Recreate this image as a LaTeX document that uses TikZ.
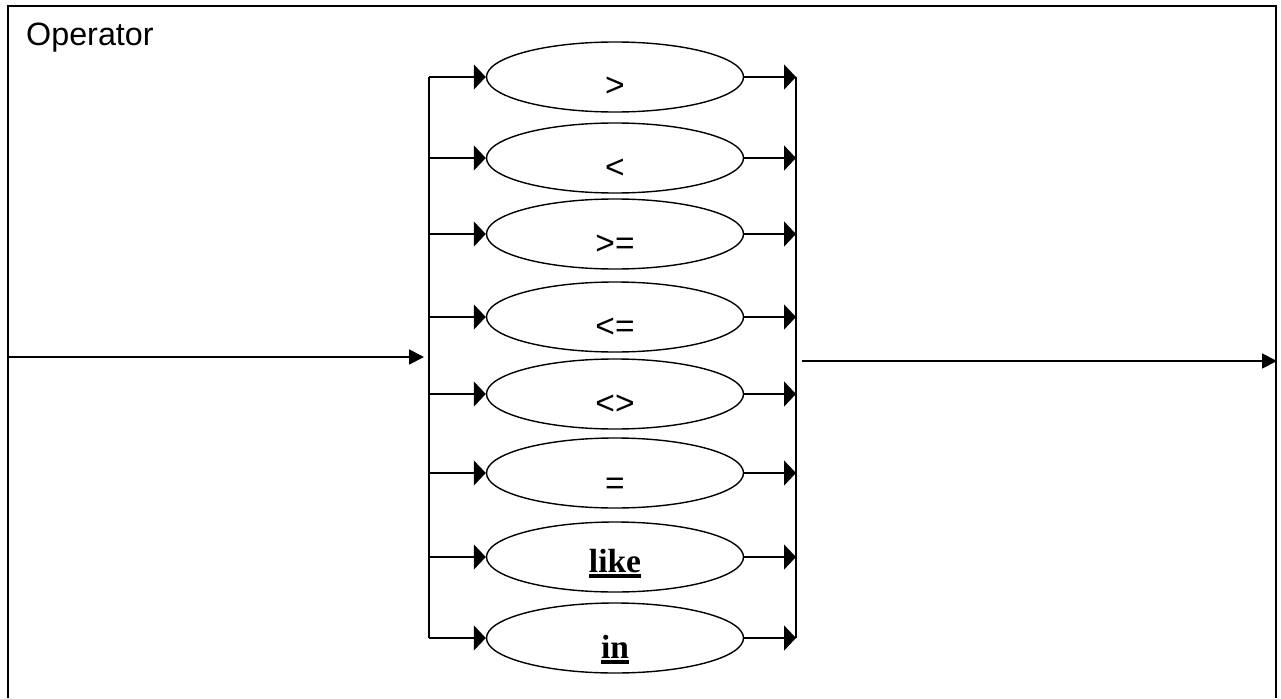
\documentclass[tikz,border=0pt]{standalone}
\usepackage{fontspec}
\setmainfont{Liberation Sans}
\newfontfamily\serifbf{Liberation Serif}[BoldFont={Liberation Serif Bold}]
\usetikzlibrary{shapes.geometric,arrows.meta}
\newcommand{\ulbold}[1]{\setbox0\hbox{\serifbf\bfseries #1}\rlap{\vrule width \wd0 height -2.3pt depth 5.8pt}\box0}
\tikzset{
  opellipse/.style={draw, ellipse, line width=1.4pt, minimum width=257pt, minimum height=70pt, inner sep=0pt},
  oplabel/.style={anchor=base, inner sep=0pt, font=\fontsize{33.5}{38}\selectfont},
  branch/.style={line width=1.4pt, -{Triangle[length=12pt,width=25pt]}},
  bar/.style={line width=1.4pt},
  mainarrow/.style={line width=1.8pt, -{Triangle[length=15pt,width=15pt]}},
  frame/.style={line width=2.2pt},
}
\begin{document}
\begin{tikzpicture}[x=1pt,y=-1pt]
\useasboundingbox (0,0) rectangle (1281,698);
\draw[frame] (8,698) -- (8,6) -- (1276,6) -- (1276,698);
\node[anchor=base west, inner sep=0pt, font=\fontsize{32.3}{38}\selectfont] (title) at (26,45.5) {Operator};
\foreach \i/\y/\t/\d in {1/77/{>}/20, 2/158/{<}/20, 3/234/{>=}/20, 4/317/{<=}/20, 5/394/{<>}/20, 6/473/{=}/21, 7/557/{\ulbold{like}}/15, 8/638/{\ulbold{in}}/20} {
  \node[opellipse] (e\i) at (615,\y) {};
  \node[oplabel] (t\i) at ([yshift=-\d pt]e\i.center) {\t};
  \coordinate (lb\i) at (429,\y);
  \coordinate (rb\i) at (796,\y);
  \draw[branch] (lb\i) -- (e\i.west);
  \draw[branch] (e\i.east) -- (rb\i);
}
\draw[bar] (lb1) -- (lb8);
\draw[bar] (rb1) -- (rb8);
\coordinate (instart) at (8,357);
\coordinate (inend) at (424,357);
\coordinate (outstart) at (802,361);
\coordinate (outend) at (1277,361);
\draw[mainarrow] (instart) -- (inend);
\draw[mainarrow] (outstart) -- (outend);
\end{tikzpicture}
\end{document}
